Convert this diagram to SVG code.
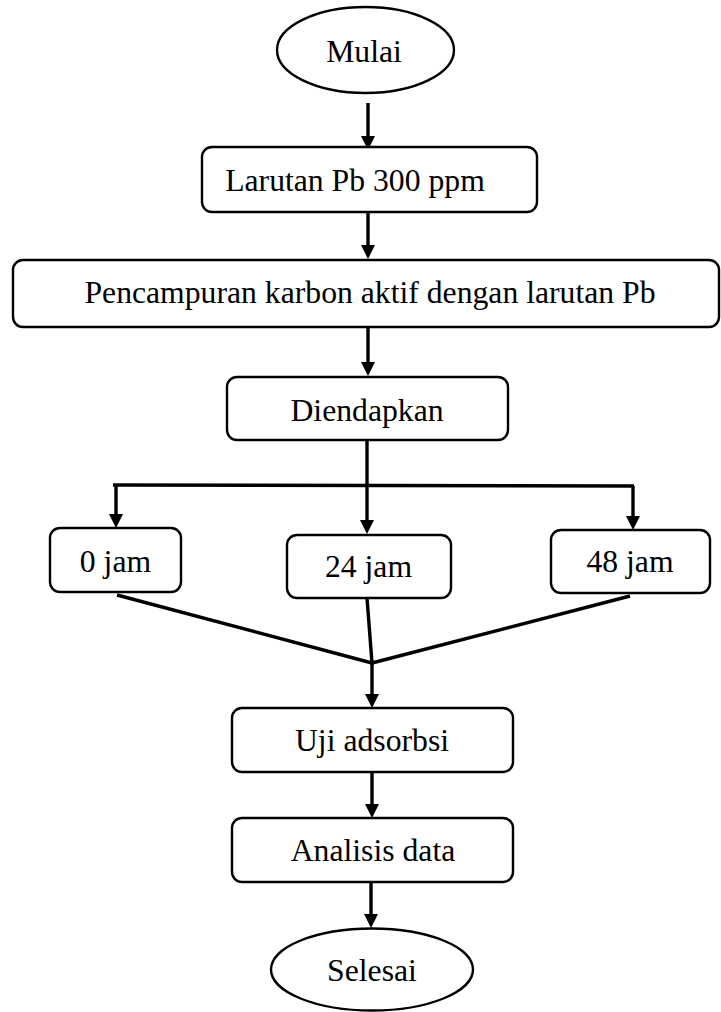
<svg xmlns="http://www.w3.org/2000/svg" width="721" height="1012" viewBox="0 0 721 1012">
<style>
  .box { fill: #ffffff; stroke: #000000; stroke-width: 2.4; }
  .lbl { font-family: 'Liberation Serif', 'Times New Roman', serif; font-size: 31.7px; fill: #000000; text-anchor: middle; }
  .con { stroke: #000000; stroke-width: 3.4; fill: none; stroke-linecap: butt; }
</style>
<defs>
  <marker id="ah" viewBox="0 0 14 14" refX="0" refY="7" markerWidth="14" markerHeight="14" markerUnits="userSpaceOnUse" orient="auto">
    <path d="M0,0 L14,7 L0,14 z" fill="#000000"/>
  </marker>
</defs>
<rect x="0" y="0" width="721" height="1012" fill="#ffffff"/>

<g id="connectors">
  <line class="con" x1="368" y1="103" x2="368" y2="136" marker-end="url(#ah)"/>
  <line class="con" x1="368" y1="212" x2="368" y2="245" marker-end="url(#ah)"/>
  <line class="con" x1="368" y1="327" x2="368" y2="362" marker-end="url(#ah)"/>
  <line class="con" x1="367" y1="440" x2="367" y2="520" marker-end="url(#ah)"/>
  <line class="con" x1="113" y1="485" x2="634" y2="486"/>
  <line class="con" x1="116" y1="485" x2="116" y2="514" marker-end="url(#ah)"/>
  <line class="con" x1="633" y1="486" x2="633" y2="516" marker-end="url(#ah)"/>
  <line class="con" x1="117" y1="595" x2="372" y2="663"/>
  <line class="con" x1="630" y1="596" x2="372" y2="663"/>
  <line class="con" x1="367" y1="598" x2="372" y2="663"/>
  <line class="con" x1="372" y1="663" x2="372" y2="694" marker-end="url(#ah)"/>
  <line class="con" x1="372" y1="772" x2="372" y2="804" marker-end="url(#ah)"/>
  <line class="con" x1="371" y1="882" x2="371" y2="914" marker-end="url(#ah)"/>
</g>

<g id="mulai">
  <ellipse class="box" cx="365.5" cy="50" rx="88.5" ry="43"/>
  <text class="lbl" x="364" y="62">Mulai</text>
</g>
<g id="larutan">
  <rect class="box" x="202" y="147" width="335" height="65" rx="10" ry="10"/>
  <text class="lbl" x="355" y="191">Larutan Pb 300 ppm</text>
</g>
<g id="pencampuran">
  <rect class="box" x="13" y="260" width="706" height="67" rx="10" ry="10"/>
  <text class="lbl" x="370" y="303">Pencampuran karbon aktif dengan larutan Pb</text>
</g>
<g id="diendapkan">
  <rect class="box" x="227" y="377" width="281" height="63" rx="10" ry="10"/>
  <text class="lbl" x="367" y="421">Diendapkan</text>
</g>
<g id="jam0">
  <rect class="box" x="50" y="528" width="131" height="64" rx="10" ry="10"/>
  <text class="lbl" x="115.5" y="572">0 jam</text>
</g>
<g id="jam24">
  <rect class="box" x="287" y="535" width="164" height="63" rx="10" ry="10"/>
  <text class="lbl" x="368.5" y="577">24 jam</text>
</g>
<g id="jam48">
  <rect class="box" x="551" y="530" width="159" height="63" rx="10" ry="10"/>
  <text class="lbl" x="630" y="572">48 jam</text>
</g>
<g id="uji">
  <rect class="box" x="232" y="708" width="281" height="64" rx="10" ry="10"/>
  <text class="lbl" x="372" y="751">Uji adsorbsi</text>
</g>
<g id="analisis">
  <rect class="box" x="232" y="818" width="281" height="64" rx="10" ry="10"/>
  <text class="lbl" x="373" y="861">Analisis data</text>
</g>
<g id="selesai">
  <ellipse class="box" cx="372" cy="969.5" rx="101" ry="41"/>
  <text class="lbl" x="372" y="981">Selesai</text>
</g>
</svg>
